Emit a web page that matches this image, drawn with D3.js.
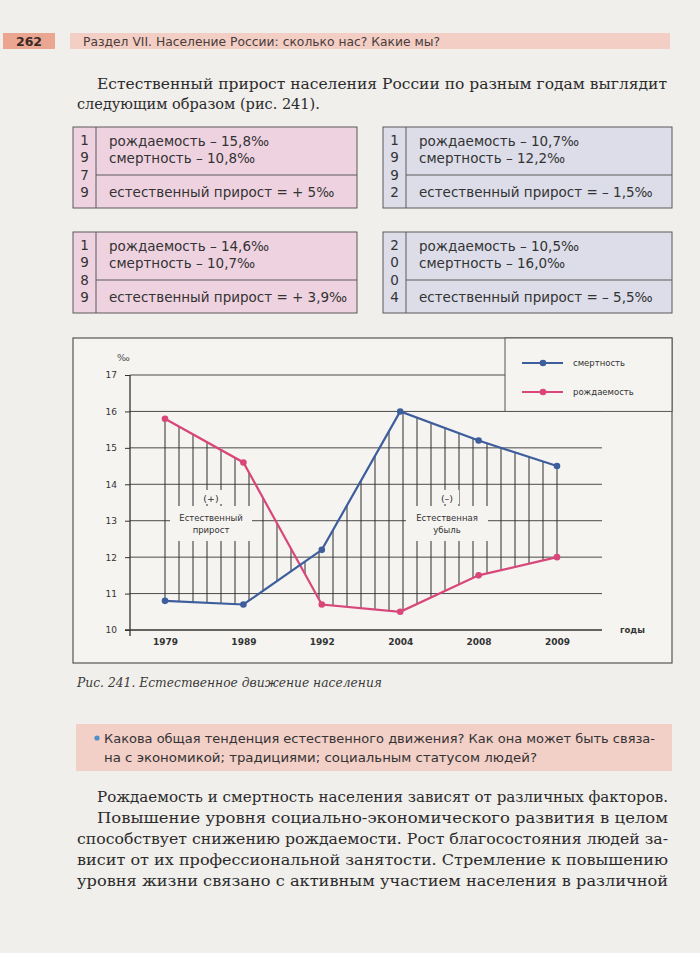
<!DOCTYPE html>
<html><head><meta charset="utf-8">
<script src="https://cdn.jsdelivr.net/npm/d3@7"></script>
<style>
html,body{margin:0;padding:0;background:#f1efeb;}
svg{display:block;}
</style></head>
<body>
<svg id="page" width="700" height="953"></svg>
<script>
// ---- data ----
const years = ["1979","1989","1992","2004","2008","2009"];
const deathRate = [10.8,10.7,12.2,16.0,15.2,14.5];   // смертность
const birthRate = [15.8,14.6,10.7,10.5,11.5,12.0];   // рождаемость
const yTicks = [10,11,12,13,14,15,16,17];
const seriesNames = ["смертность","рождаемость"];

const boxYears = ["1979","1992","1989","2004"];
const boxBirth = ["15,8","10,7","14,6","10,5"];
const boxDeath = ["10,8","12,2","10,7","16,0"];
const boxGrowth = ["+ 5","– 1,5","+ 3,9","– 5,5"];

const introLines = [
 "Естественный прирост населения России по разным годам выглядит",
 "следующим образом (рис. 241)."
];
const questionLines = [
 "Какова общая тенденция естественного движения? Как она может быть связа-",
 "на с экономикой; традициями; социальным статусом людей?"
];
const bodyLines = [
 "Рождаемость и смертность населения зависят от различных факторов.",
 "Повышение уровня социально-экономического развития в целом",
 "способствует снижению рождаемости. Рост благосостояния людей за-",
 "висит от их профессиональной занятости. Стремление к повышению",
 "уровня жизни связано с активным участием населения в различной"
];

const svg = d3.select("#page");
const sans = "'DejaVu Sans', 'Open Sans', sans-serif";
const serif = "'DejaVu Serif', 'Liberation Serif', serif";
const BLUE = "#3d5d9c", PINK = "#d8467a";
const CHARTBG = "#f5f4f1";

// ---- header ----
svg.append("rect").attr("x",3).attr("y",33).attr("width",52).attr("height",16).attr("fill","#eaa690");
svg.append("text").attr("x",29).attr("y",46).attr("text-anchor","middle")
  .attr("font-family",sans).attr("font-weight",700).attr("font-size",12.5).attr("fill","#3a2a26").text("262");
svg.append("rect").attr("x",70).attr("y",33).attr("width",600).attr("height",16).attr("fill","#f3cec5");
svg.append("text").attr("x",83).attr("y",45.5).attr("font-family",sans).attr("font-size",12)
  .attr("fill","#4a3c3a").attr("textLength",357).attr("lengthAdjust","spacingAndGlyphs")
  .text("Раздел VII. Население России: сколько нас? Какие мы?");

// ---- intro ----
introLines.forEach((t,i)=>{
  const tx = svg.append("text").attr("x", i===0?97:77).attr("y", 89+i*20)
    .attr("font-family",serif).attr("font-size",14.5).attr("fill","#2b2b2b").text(t);
  if(i===0) tx.attr("textLength",570).attr("lengthAdjust","spacingAndGlyphs");
});

// ---- boxes ----
const boxPos = [[73,127],[383,127],[73,232],[383,232]];
const boxW = [284,289,284,289];
boxYears.forEach((yr,i)=>{
  const [bx,by] = boxPos[i];
  const w = boxW[i], h = 81;
  const g = svg.append("g").attr("transform",`translate(${bx},${by})`);
  g.append("rect").attr("width",w).attr("height",h)
    .attr("fill", (i%2===0) ? "#efd2e0" : "#dcdde9").attr("stroke","#5a5a5a").attr("stroke-width",1);
  g.append("line").attr("x1",23).attr("x2",23).attr("y1",0).attr("y2",h).attr("stroke","#5a5a5a");
  g.append("line").attr("x1",23).attr("x2",w).attr("y1",48).attr("y2",48).attr("stroke","#5a5a5a");
  yr.split("").forEach((d,j)=>{
    g.append("text").attr("x",11.5).attr("y",18+j*17.3).attr("text-anchor","middle")
      .attr("font-family",sans).attr("font-size",13.5).attr("fill","#333").text(d);
  });
  const tx = (s,yy)=>g.append("text").attr("x",36).attr("y",yy).attr("font-family",sans)
      .attr("font-size",13.5).attr("fill","#333").text(s);
  tx(`рождаемость – ${boxBirth[i]}‰`,19);
  tx(`смертность – ${boxDeath[i]}‰`,36);
  tx(`естественный прирост = ${boxGrowth[i]}‰`,70);
});

// ---- chart ----
const frame = {x:73,y:338,w:599,h:325};
svg.append("rect").attr("x",frame.x).attr("y",frame.y).attr("width",frame.w).attr("height",frame.h)
  .attr("fill",CHARTBG).attr("stroke","#555").attr("stroke-width",1.2);

const x = d3.scalePoint().domain(years).range([165,557]);
const y = d3.scaleLinear().domain([10,17]).range([630,375]);
const axisLeftX = 130, gridRight = 602, legendLeft = 505;

const chart = svg.append("g");
chart.selectAll("line.grid").data(yTicks.filter(v=>v>10)).join("line")
  .attr("x1",axisLeftX).attr("x2",d=> d===17 ? legendLeft : gridRight)
  .attr("y1",d=>y(d)).attr("y2",d=>y(d)).attr("stroke","#4a4a4a").attr("stroke-width",1);

function valAt(px, series){
  for(let i=0;i<years.length-1;i++){
    const x0=x(years[i]), x1=x(years[i+1]);
    if(px>=x0-0.01 && px<=x1+0.01){
      const t=(px-x0)/(x1-x0);
      return series[i]+t*(series[i+1]-series[i]);
    }
  }
  return series[series.length-1];
}
const x0 = x(years[0]), xN = x(years[years.length-1]);
const nHatch = 28;
const hatchX = d3.range(nHatch+1).map(i=>x0+i*(xN-x0)/nHatch);
chart.selectAll("line.hatch").data(hatchX).join("line")
  .attr("x1",d=>d).attr("x2",d=>d)
  .attr("y1",d=>y(valAt(d,deathRate))).attr("y2",d=>y(valAt(d,birthRate)))
  .attr("stroke","#2e2e2e").attr("stroke-width",1);

const labels = [
  {cx:211, sign:"(+)", l1:"Естественный", l2:"прирост"},
  {cx:447, sign:"(–)", l1:"Естественная", l2:"убыль"}
];
labels.forEach(L=>{
  chart.append("rect").attr("x",L.cx-12).attr("y",490).attr("width",24).attr("height",14).attr("fill",CHARTBG);
  chart.append("rect").attr("x",L.cx-41).attr("y",506).attr("width",82).attr("height",35).attr("fill",CHARTBG);
  chart.append("text").attr("x",L.cx).attr("y",502).attr("text-anchor","middle")
    .attr("font-family",sans).attr("font-size",9.5).attr("fill","#333").text(L.sign);
  chart.append("text").attr("x",L.cx).attr("y",521).attr("text-anchor","middle")
    .attr("font-family",sans).attr("font-size",8.5).attr("fill","#333").text(L.l1);
  chart.append("text").attr("x",L.cx).attr("y",533).attr("text-anchor","middle")
    .attr("font-family",sans).attr("font-size",8.5).attr("fill","#333").text(L.l2);
});

chart.append("line").attr("x1",axisLeftX).attr("x2",axisLeftX).attr("y1",y(17)).attr("y2",y(10)+6)
  .attr("stroke","#333").attr("stroke-width",1.3);
chart.append("line").attr("x1",axisLeftX-5).attr("x2",gridRight).attr("y1",y(10)).attr("y2",y(10))
  .attr("stroke","#333").attr("stroke-width",1.3);
const yAxis = chart.append("g").attr("transform",`translate(${axisLeftX},0)`)
  .call(d3.axisLeft(y).tickValues(yTicks).tickFormat(d3.format("d")).tickSize(5).tickPadding(8));
yAxis.select(".domain").remove();
yAxis.selectAll("line").attr("stroke","#333");
yAxis.selectAll("text").attr("font-family",sans).attr("font-size",9).attr("fill","#333");
const xAxis = chart.append("g").attr("transform",`translate(0,${y(10)})`)
  .call(d3.axisBottom(x).tickSize(0).tickPadding(9));
xAxis.select(".domain").remove();
xAxis.selectAll("text").attr("font-family",sans).attr("font-size",9).attr("font-weight",600).attr("fill","#333");

chart.append("text").attr("x",117).attr("y",361).attr("font-family",serif).attr("font-size",9.5).attr("fill","#444").text("‰");
chart.append("text").attr("x",620).attr("y",633).attr("font-family",sans).attr("font-size",8.5).attr("font-weight",600).attr("fill","#333").text("годы");

const line = d3.line().x((d,i)=>x(years[i])).y(d=>y(d));
const series = [{name:seriesNames[0],vals:deathRate,color:BLUE},{name:seriesNames[1],vals:birthRate,color:PINK}];
series.slice().reverse().forEach(s=>{
  chart.append("path").datum(s.vals).attr("d",line).attr("fill","none")
    .attr("stroke",s.color).attr("stroke-width",2.2);
  chart.selectAll(null).data(s.vals).join("circle")
    .attr("cx",(d,i)=>x(years[i])).attr("cy",d=>y(d)).attr("r",3.3).attr("fill",s.color);
});

svg.append("rect").attr("x",legendLeft).attr("y",frame.y).attr("width",frame.x+frame.w-legendLeft).attr("height",y(16)-frame.y)
  .attr("fill",CHARTBG).attr("stroke","#555").attr("stroke-width",1);
series.forEach((s,i)=>{
  const ly = 363 + i*29;
  svg.append("line").attr("x1",522).attr("x2",563).attr("y1",ly).attr("y2",ly).attr("stroke",s.color).attr("stroke-width",2.2);
  svg.append("circle").attr("cx",543).attr("cy",ly).attr("r",3.3).attr("fill",s.color);
  svg.append("text").attr("x",573).attr("y",ly+3).attr("font-family",sans).attr("font-size",8.5).attr("fill","#333").text(s.name);
});

svg.append("text").attr("x",77).attr("y",687).attr("font-family",serif).attr("font-style","italic")
  .attr("font-size",12).attr("fill","#3a3a3a").attr("textLength",305).attr("lengthAdjust","spacingAndGlyphs")
  .text("Рис. 241. Естественное движение населения");

svg.append("rect").attr("x",76).attr("y",724).attr("width",596).attr("height",47).attr("fill","#f2cfc7");
svg.append("circle").attr("cx",97).attr("cy",738).attr("r",2.6).attr("fill","#4c8fcb");
questionLines.forEach((t,i)=>{
  const tx = svg.append("text").attr("x",104).attr("y",743+i*19).attr("font-family",sans).attr("font-size",12.5)
    .attr("fill","#333").text(t);
  tx.attr("textLength", i===0 ? 551 : 433).attr("lengthAdjust","spacingAndGlyphs");
});

bodyLines.forEach((t,i)=>{
  const sx = i<2 ? 97 : 77;
  svg.append("text").attr("x",sx).attr("y",802+i*21).attr("font-family",serif).attr("font-size",14.5)
    .attr("fill","#2b2b2b").attr("textLength",668-sx).attr("lengthAdjust","spacingAndGlyphs").text(t);
});
</script>
</body></html>
